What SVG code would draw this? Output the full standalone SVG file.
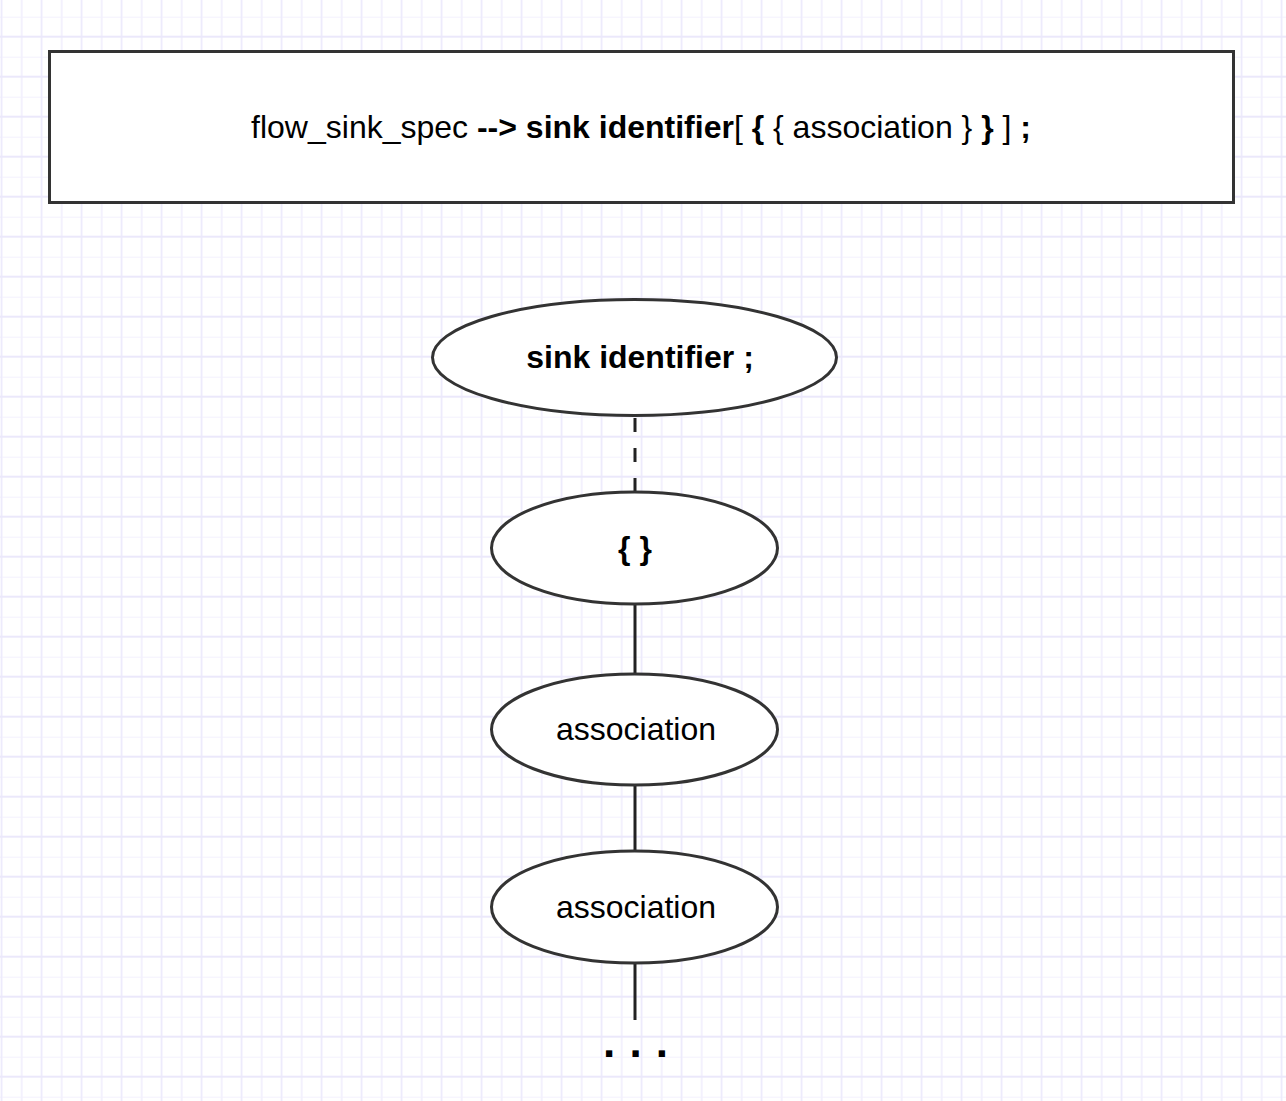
<svg xmlns="http://www.w3.org/2000/svg" width="1286" height="1101" viewBox="0 0 1286 1101">
  <defs>
    <!-- light graph-paper background: 20px minor cells, slightly darker every 40px -->
    <pattern id="grid" x="1.7" y="16.7" width="40" height="40" patternUnits="userSpaceOnUse">
      <path d="M0 0V40M20 0V40M0 0H40M0 20H40" stroke="#f3f1fd" stroke-width="2" fill="none"/>
      <path d="M40 0V40M0 20H40" stroke="#ebe8fb" stroke-width="2" fill="none"/>
    </pattern>
    <style>
      .shape { fill: #ffffff; stroke: #333333; stroke-width: 3; }
      .edge { stroke: #222222; stroke-width: 3; fill: none; }
      .dashed { stroke-dasharray: 14 16; }
      .label { font-family: "Liberation Sans", Arial, sans-serif; font-size: 32px; fill: #000000; text-anchor: middle; }
      .bold { font-weight: bold; }
    </style>
  </defs>

  <rect width="1286" height="1101" fill="#ffffff"/>
  <rect width="1286" height="1101" fill="url(#grid)"/>

  <!-- grammar rule header -->
  <g id="rule">
    <rect class="shape" x="49.5" y="51.5" width="1184" height="151"/>
    <text class="label" x="641" y="138">flow_sink_spec <tspan class="bold">--&gt; sink identifier</tspan>[ <tspan class="bold">{</tspan> { association } <tspan class="bold">}</tspan> ] <tspan class="bold">;</tspan></text>
  </g>

  <!-- connectors -->
  <g id="connectors">
    <line class="edge dashed" x1="635" y1="418" x2="635" y2="491"/>
    <line class="edge" x1="635" y1="604" x2="635" y2="674"/>
    <line class="edge" x1="635" y1="785" x2="635" y2="851"/>
    <line class="edge" x1="635" y1="963" x2="635" y2="1020"/>
  </g>

  <g id="sink-identifier">
    <ellipse class="shape" cx="634.5" cy="357.5" rx="202" ry="58"/>
    <text class="label bold" x="640" y="368">sink identifier ;</text>
  </g>

  <g id="braces">
    <ellipse class="shape" cx="634.5" cy="548" rx="143" ry="56"/>
    <text class="label bold" x="635" y="559">{ }</text>
  </g>

  <g id="association-1">
    <ellipse class="shape" cx="634.5" cy="729.5" rx="143" ry="55.5"/>
    <text class="label" x="636" y="740">association</text>
  </g>

  <g id="association-2">
    <ellipse class="shape" cx="634.5" cy="907" rx="143" ry="56"/>
    <text class="label" x="636" y="918">association</text>
  </g>

  <g id="more">
    <text class="label bold" x="636" y="1057" style="font-size:44px; letter-spacing:1px">. . .</text>
  </g>
</svg>
